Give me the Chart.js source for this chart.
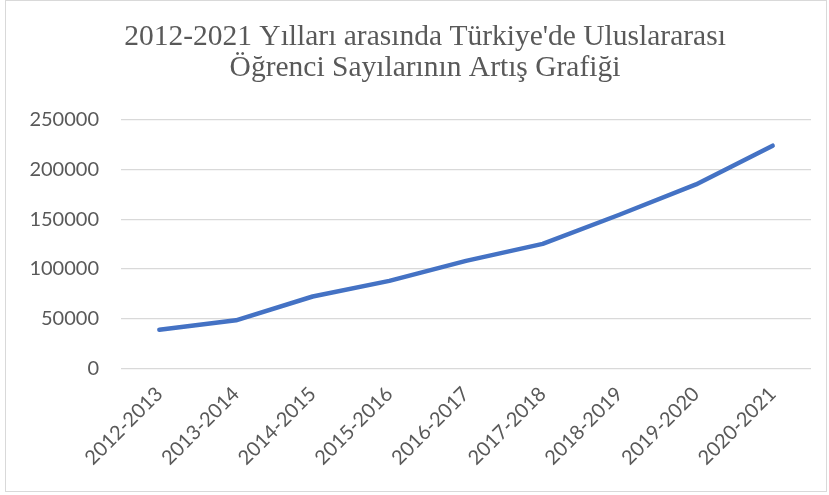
<!DOCTYPE html>
<html>
<head>
<meta charset="utf-8">
<script src="https://cdn.jsdelivr.net/npm/chart.js@4"></script>
<style>
  html, body { margin: 0; padding: 0; background: #fff; }
  #wrap { position: relative; width: 829px; height: 495px; }
  #frame { position: absolute; left: 5px; top: 0px; width: 822px; height: 492px; border: 1px solid #d9d9d9; box-sizing: border-box; pointer-events: none; }
</style>
</head>
<body>
<div id="wrap">
  <canvas id="grafik" width="829" height="495"></canvas>
  <div id="frame"></div>
</div>
<script>
// yıllar
const years = ['2012-2013', '2013-2014', '2014-2015', '2015-2016', '2016-2017',
               '2017-2018', '2018-2019', '2019-2020', '2020-2021'];
// uluslararası öğrenci sayıları
const students = [38590, 48183, 72178, 87903, 108076, 125138, 154505, 185047, 224048];
const yTicks = [0, 50000, 100000, 150000, 200000, 250000];

const ctx = document.getElementById('grafik').getContext('2d');
new Chart(ctx, {
  type: 'line',
  data: {
    labels: years,
    datasets: [{
      label: 'Öğrenci Sayısı',
      data: students,
      borderColor: '#4472C4',
      borderWidth: 4.5,
      borderCapStyle: 'round',
      borderJoinStyle: 'round',
      pointRadius: 0,
      tension: 0
    }]
  },
  options: {
    responsive: false,
    animation: false,
    layout: { padding: { left: 29, right: 8, top: 16, bottom: 19 } },
    plugins: {
      legend: { display: false },
      tooltip: { enabled: false },
      title: {
        display: true,
        text: ["2012-2021 Yılları arasında Türkiye'de Uluslararası", 'Öğrenci Sayılarının Artış Grafiği'],
        color: '#595959',
        font: { family: '"Liberation Serif", "Times New Roman", serif', size: 29.5, weight: 'normal', lineHeight: 1.05 },
        padding: { top: 6, bottom: 36 }
      }
    },
    scales: {
      x: {
        offset: true,
        grid: { display: false },
        border: { display: false },
        // eğik etiketler sol boşluğu büyütmesin, sağ kenar 18px içeride
        afterFit: (s) => { s.paddingLeft = 0; s.paddingRight = 18; },
        ticks: {
          color: '#595959',
          font: { family: 'Lato, "Open Sans", sans-serif', size: 20 },
          minRotation: 45,
          maxRotation: 45,
          padding: 6
        }
      },
      y: {
        min: 0,
        max: 250000,
        afterBuildTicks: (axis) => { axis.ticks = yTicks.map(v => ({ value: v })); },
        afterFit: (axis) => { axis.width = 92; },
        grid: { color: '#d9d9d9', lineWidth: 1.3, drawTicks: false },
        border: { display: false },
        ticks: {
          color: '#595959',
          font: { family: 'Lato, "Open Sans", sans-serif', size: 20 },
          padding: 22,
          callback: (v) => String(v)
        }
      }
    }
  }
});
</script>
</body>
</html>
